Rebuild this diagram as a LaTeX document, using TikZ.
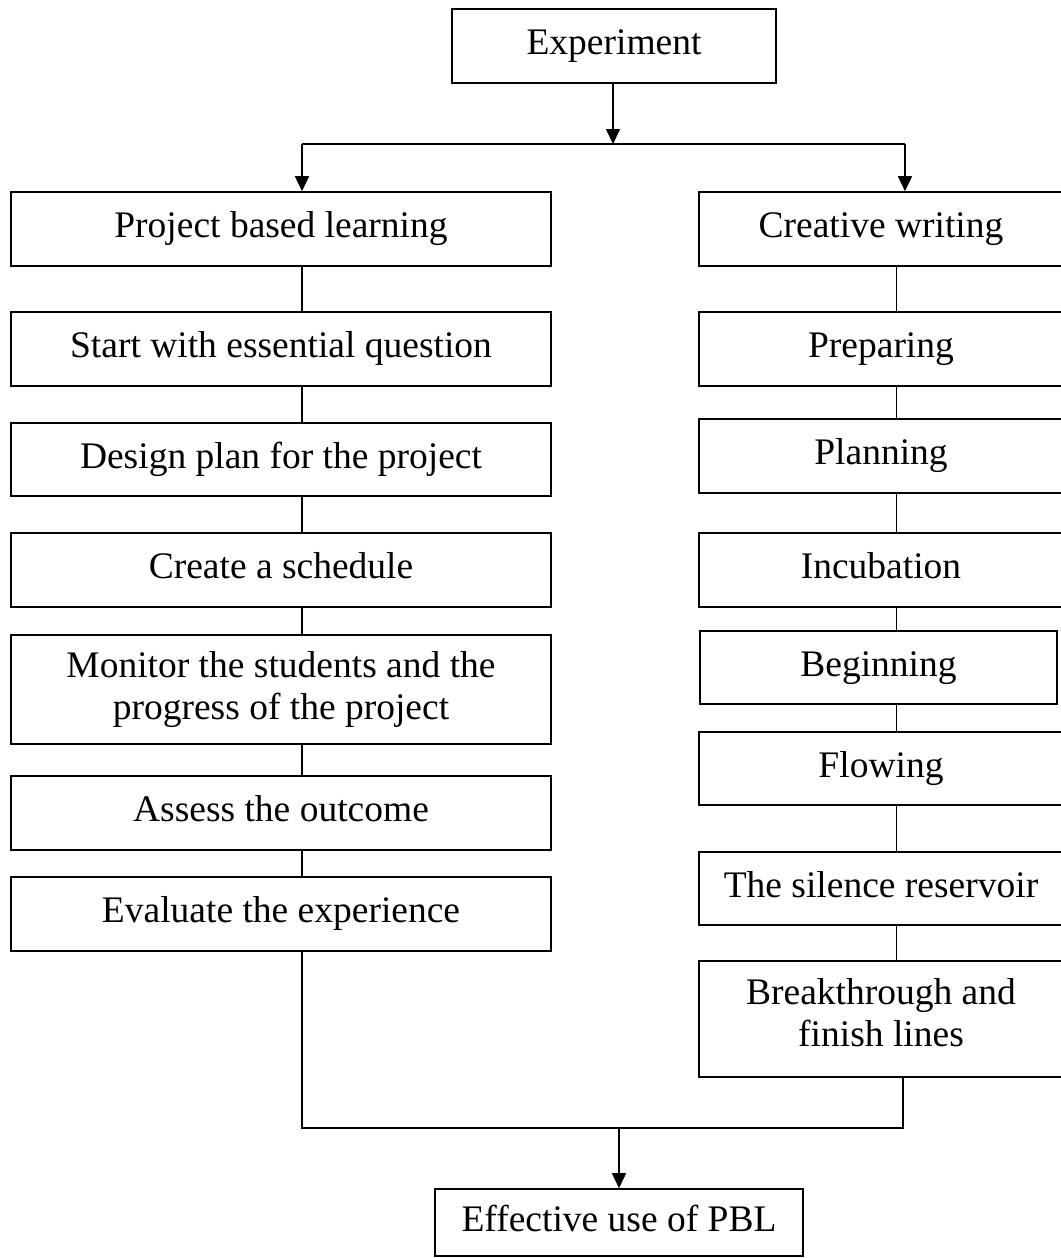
\documentclass[tikz,border=0pt]{standalone}
\usepackage{fontspec}
\setmainfont{Liberation Serif}
\usetikzlibrary{arrows.meta,calc}
\newcommand{\topstrut}{\rule{0pt}{26pt}}
\newcommand{\botstrut}[1]{\rule[-#1]{0pt}{#1}}
\begin{document}
\begin{tikzpicture}[x=1pt,y=-1pt,
  basebox/.style={draw, line width=1.6pt, rectangle, inner sep=0pt, align=center,
    font=\fontsize{37.5}{42}\selectfont},
  box/.style={basebox, text height=26pt, text depth=9pt},
  lbox/.style={box, minimum width=540pt, minimum height=74pt},
  rbox/.style={box, minimum width=364pt, minimum height=74pt},
  conn/.style={line width=1.6pt},
  arr/.style={conn, -{Triangle[length=15pt,width=14pt]}}]
\useasboundingbox (0,0) rectangle (1060,1258);

% top
\node[box, minimum width=324pt, minimum height=74pt] (exp) at (614,46) {Experiment};

% left column
\node[lbox] (pbl) at (281,229) {Project based learning};
\node[lbox] (start) at (281,349) {Start with essential question};
\node[lbox, minimum height=73pt] (design) at (281,459.5) {Design plan for the project};
\node[lbox] (sched) at (281,570) {Create a schedule};
\node[basebox, minimum width=540pt, minimum height=109pt] (monitor) at (281,689.5)
  {\topstrut Monitor the students and the\\ progress of the project\botstrut{1pt}};
\node[lbox] (assess) at (281,813) {Assess the outcome};
\node[lbox] (eval) at (281,914) {Evaluate the experience};

% right column (boxes run past the right margin, as in the reference)
\node[rbox] (creative) at (881,229) {Creative writing};
\node[rbox] (prep) at (881,349) {Preparing};
\node[rbox] (plan) at (881,456) {Planning};
\node[rbox] (incub) at (881,570) {Incubation};
\node[box, minimum width=357pt, minimum height=73pt] (begin) at (878.5,667.5) {Beginning};
\node[rbox, minimum height=73pt] (flow) at (881,768.5) {Flowing};
\node[rbox, minimum height=73pt] (silence) at (881,888.5) {The silence reservoir};
\node[basebox, minimum width=364pt, minimum height=116pt] (break) at (881,1019)
  {\topstrut Breakthrough and\\ finish lines\botstrut{14pt}};

% bottom
\node[box, minimum width=368pt, minimum height=67pt] (eff) at (619,1222.5) {Effective use of PBL};

% spine coordinates
\coordinate (lx) at (302,0);
\coordinate (rx) at (896.5,0);
\coordinate (rb) at (903,0);
\coordinate (split) at (613,144);
\coordinate (splitL) at (302,144);
\coordinate (splitR) at (905,144);
\coordinate (joinL) at (302,1128);
\coordinate (joinR) at (903,1128);
\coordinate (joinM) at (619,1128);

% top connectors
\draw[arr] (exp.south -| split) -- (split);
\draw[conn] (splitL) -- (splitR);
\draw[arr] (splitL) -- (pbl.north -| splitL);
\draw[arr] (splitR) -- (creative.north -| splitR);

% left chain
\draw[conn] (pbl.south -| lx) -- (start.north -| lx);
\draw[conn] (start.south -| lx) -- (design.north -| lx);
\draw[conn] (design.south -| lx) -- (sched.north -| lx);
\draw[conn] (sched.south -| lx) -- (monitor.north -| lx);
\draw[conn] (monitor.south -| lx) -- (assess.north -| lx);
\draw[conn] (assess.south -| lx) -- (eval.north -| lx);

% right chain
\draw[conn] (creative.south -| rx) -- (prep.north -| rx);
\draw[conn] (prep.south -| rx) -- (plan.north -| rx);
\draw[conn] (plan.south -| rx) -- (incub.north -| rx);
\draw[conn] (incub.south -| rx) -- (begin.north -| rx);
\draw[conn] (begin.south -| rx) -- (flow.north -| rx);
\draw[conn] (flow.south -| rx) -- (silence.north -| rx);
\draw[conn] (silence.south -| rx) -- (break.north -| rx);

% merge
\draw[conn] (eval.south -| lx) -- (joinL) -- (joinR) -- (break.south -| rb);
\draw[arr] (joinM) -- (eff.north -| joinM);
\end{tikzpicture}
\end{document}
